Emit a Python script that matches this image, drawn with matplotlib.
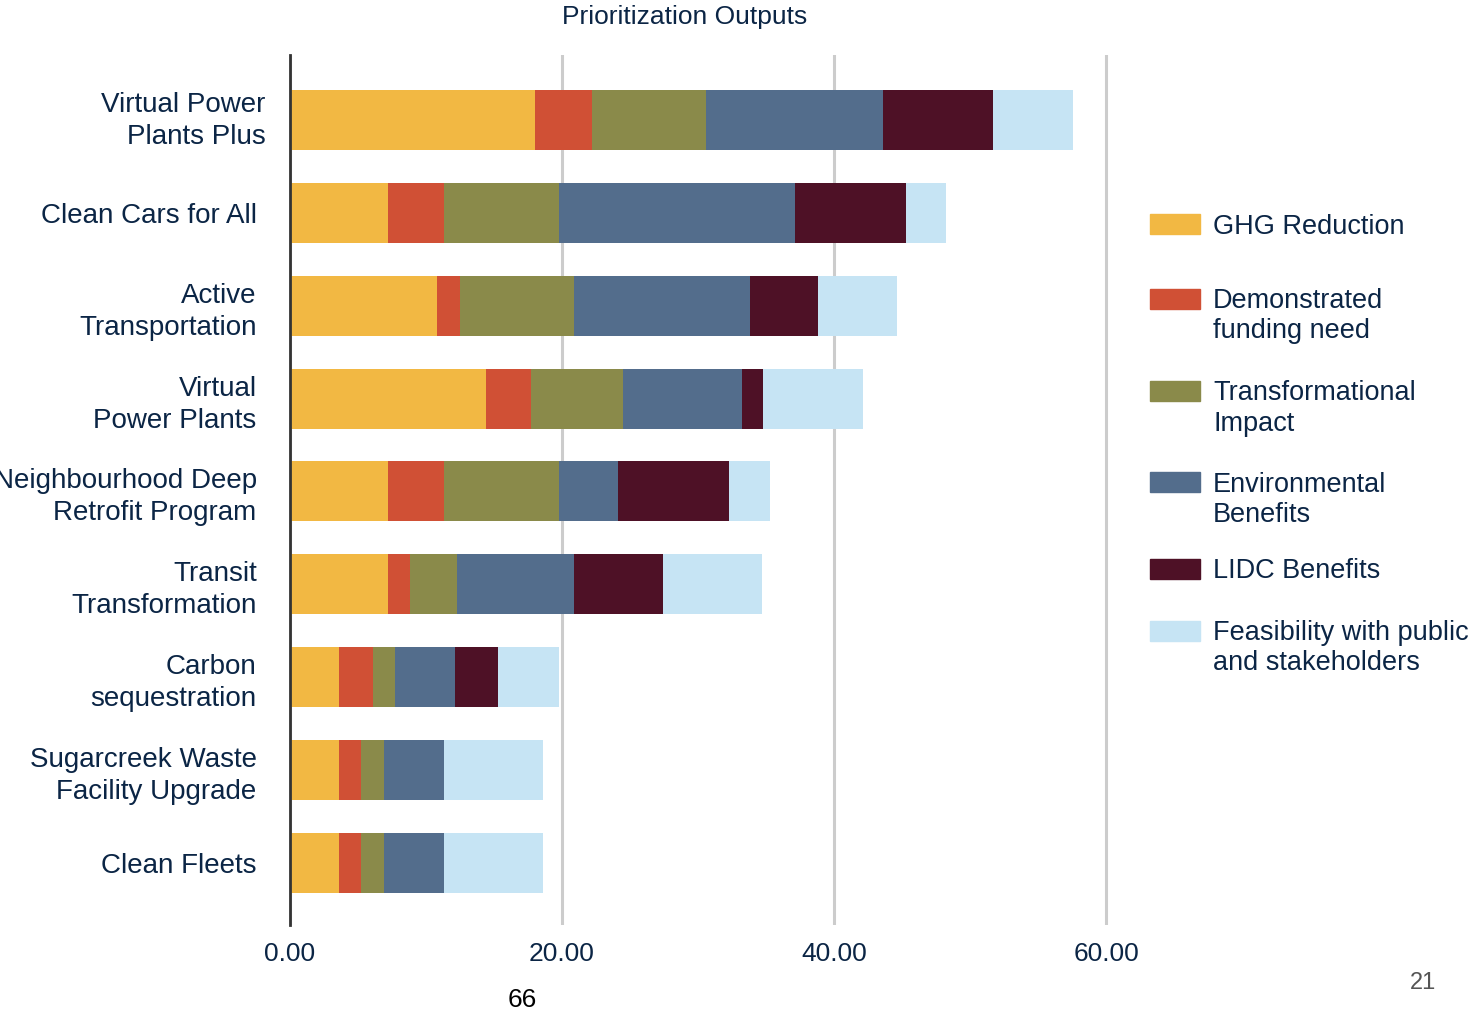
import numpy as np
import matplotlib
matplotlib.use("Agg")
import matplotlib.pyplot as plt
import matplotlib.transforms as mtransforms
from matplotlib.patches import Rectangle

plt.rcParams['font.family'] = ['Liberation Sans', 'DejaVu Sans']

# --- Data ---
projects = ['Virtual Power\nPlants Plus', 'Clean Cars for All', 'Active\nTransportation',
            'Virtual\nPower Plants', 'Neighbourhood Deep\nRetrofit Program', 'Transit\nTransformation',
            'Carbon\nsequestration', 'Sugarcreek Waste\nFacility Upgrade', 'Clean Fleets']
criteria = ['GHG Reduction', 'Demonstrated\nfunding need', 'Transformational\nImpact',
            'Environmental\nBenefits', 'LIDC Benefits', 'Feasibility with public\nand stakeholders']
ghg      = [18.0, 7.2, 10.8, 14.4, 7.2, 7.2, 3.6, 3.6, 3.6]
funding  = [4.2, 4.1, 1.7, 3.3, 4.1, 1.6, 2.5, 1.6, 1.6]
transf   = [8.4, 8.5, 8.4, 6.8, 8.5, 3.5, 1.6, 1.7, 1.7]
environ  = [13.0, 17.3, 12.9, 8.7, 4.3, 8.6, 4.4, 4.4, 4.4]
lidc     = [8.1, 8.2, 5.0, 1.6, 8.2, 6.5, 3.2, 0.0, 0.0]
feasible = [5.9, 2.9, 5.8, 7.3, 3.0, 7.3, 4.5, 7.3, 7.3]
xticks = [0, 20, 40, 60]

colors = ['#F2B843', '#D05035', '#8A8A4A', '#536D8C', '#4E1126', '#C6E4F4']
navy = '#0B2545'

W, H = 1478, 1015
fig = plt.figure(figsize=(W / 100, H / 100), dpi=100)
ax = fig.add_axes([290 / W, 90 / H, 829.6 / W, 870 / H])

ypos = np.arange(len(projects))
left = np.zeros(len(projects))
for vals, col, lab in zip([ghg, funding, transf, environ, lidc, feasible], colors, criteria):
    ax.barh(ypos, vals, left=left, height=0.646, color=col, label=lab, zorder=3)
    left += np.array(vals)

ax.set_xlim(0, 61)
ax.set_ylim(8.668, -0.700)
ax.set_xticks(xticks)
ax.set_xticklabels([f'{v:.2f}' for v in xticks])
ax.set_yticks(ypos)
ax.set_yticklabels(projects, linespacing=1.3)
ax.tick_params(axis='x', length=0, pad=12, labelsize=19, labelcolor=navy)
ax.tick_params(axis='y', length=0, pad=24, labelsize=20, labelcolor=navy)
ax.xaxis.grid(True, color='#CCCCCC', linewidth=2.2, zorder=0)
for s in ['top', 'right', 'bottom']:
    ax.spines[s].set_visible(False)
ax.spines['left'].set_color('#333333')
ax.spines['left'].set_linewidth(2)
ax.spines['left'].set_zorder(4)

# first label sits a little further right, and a bit higher
lab0 = ax.get_yticklabels()[0]
lab0.set_transform(lab0.get_transform() + mtransforms.ScaledTranslation(0.09, 0.05, fig.dpi_scale_trans))

# --- Legend (drawn by hand so the swatch sits on the first line) ---
tops = [214, 289, 381, 472, 559, 621]
for top, col, lab in zip(tops, colors, criteria):
    fig.add_artist(Rectangle((1150 / W, 1 - (top + 19.5) / H), 50 / W, 19.5 / H,
                             transform=fig.transFigure, color=col))
    for i, line in enumerate(lab.split('\n')):
        fig.text(1213 / W, 1 - (top + 19.5 + 30 * i) / H, line, fontsize=19.5,
                 color=navy, va='baseline', ha='left')

fig.text(685 / W, 1 - 17 / H, 'Prioritization Outputs', fontsize=19, color=navy,
         ha='center', va='center')
fig.text(522 / W, 1 - 1000 / H, '66', fontsize=19, color='black', ha='center', va='center')
fig.text(1423 / W, 1 - 983 / H, '21', fontsize=17, color='#555555', ha='center', va='center')

plt.savefig('out.png', dpi=100)
